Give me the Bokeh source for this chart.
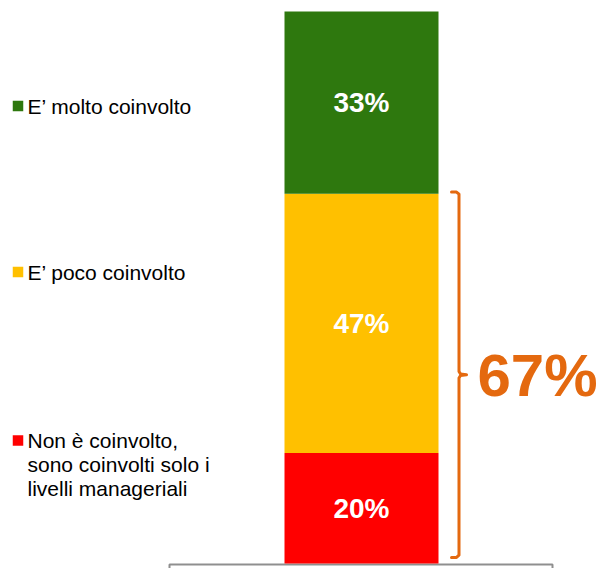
from bokeh.plotting import figure
from bokeh.models import Range1d
from bokeh.core.properties import value
from bokeh.embed import file_html
from bokeh.resources import INLINE

# ---- data ----
categories = ["Non è coinvolto,\nsono coinvolti solo i\nlivelli manageriali", "E’ poco coinvolto", "E’ molto coinvolto"]
shares = [20, 47, 33]
colors = ["#FF0000", "#FFC000", "#2E780E"]
bracket_total = 67
bracket_label = "67%"

# ---- layout helpers (figure px -> data) ----
BAR_BASE_PX = 563.0
PX_PER_PCT = 5.52
def Y(py):
    return (BAR_BASE_PX - py) / PX_PER_PCT

W, H = 605, 568
p = figure(width=W, height=H, output_backend="svg", toolbar_location=None,
           x_range=Range1d(0, W), y_range=Range1d(Y(H), Y(0)),
           min_border=0, background_fill_color="white", border_fill_color="white")
p.axis.visible = False
p.grid.visible = False
p.outline_line_color = None

# grey box below the bar
p.quad(left=[169], right=[552], top=[Y(564)], bottom=[Y(620)],
       fill_color=None, line_color="#8F8F8F", line_width=2)

# stacked bar
bottoms, tops = [], []
acc = 0
for v in shares:
    bottoms.append(acc)
    acc += v
    tops.append(acc)
bar_x = 361
p.vbar(x=[bar_x] * len(shares), width=154, bottom=bottoms, top=tops,
       fill_color=colors, line_color=None)

# value labels
mids = [(b + t) / 2 for b, t in zip(bottoms, tops)]
p.text(x=[bar_x] * len(shares), y=mids, text=[f"{v}%" for v in shares],
       text_color="white", text_font=value("Liberation Sans"), text_font_style="bold",
       text_font_size="28px", text_align="center", text_baseline="middle")

# legend (custom positions)
leg_y_px = [440, 271.5, 105.5]
p.rect(x=[17.5] * 3, y=[Y(v) for v in leg_y_px], width=10.5,
       height=10.5 / PX_PER_PCT, fill_color=colors, line_color=None)
for cat, ypx in zip(categories, leg_y_px):
    for i, line in enumerate(cat.split("\n")):
        p.text(x=[27], y=[Y(ypx + i * 24)], text=[line], text_color="#000000",
               text_font=value("Liberation Sans"), text_font_size="21px",
               text_align="left", text_baseline="middle")

# bracket covering the lower part
b_bot = 1.1
b_top = bracket_total + 0.3
b_mid = (b_bot + b_top) / 2
bx = [451, 456, 458.5, 458.5, 460, 466, 460, 458.5, 458.5, 456, 451]
by = [b_top, b_top, b_top - 0.4, b_mid + 0.6, b_mid + 0.15, b_mid, b_mid - 0.15,
      b_mid - 0.6, b_bot + 0.4, b_bot, b_bot]
p.line(x=bx, y=by, line_color="#E4690F", line_width=3, line_join="round", line_cap="round")
p.text(x=[477], y=[b_mid - 0.2], text=[bracket_label], text_color="#E4690F",
       text_font=value("Liberation Sans"), text_font_style="bold",
       text_font_size="60px", text_align="left", text_baseline="middle")

open("out.html", "w").write(file_html(p, INLINE))
